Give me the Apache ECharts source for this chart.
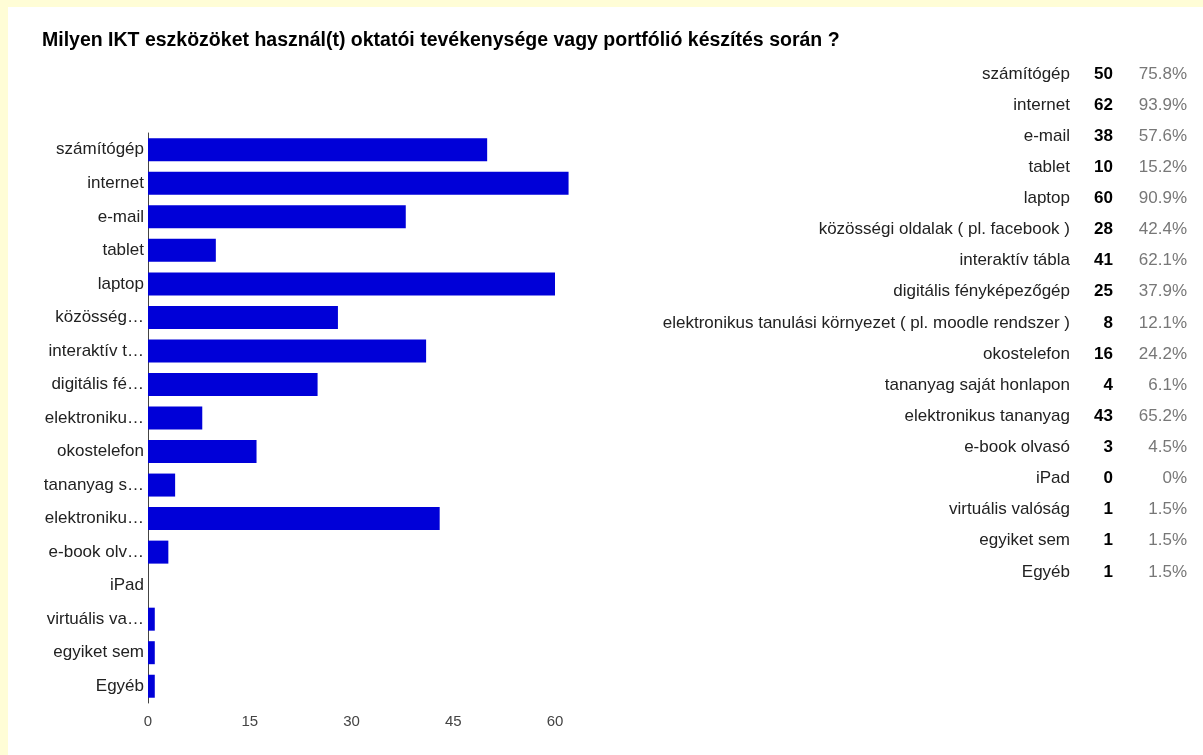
<!DOCTYPE html>
<html>
<head>
<meta charset="utf-8">
<script src="https://cdn.jsdelivr.net/npm/echarts@6/dist/echarts.min.js"></script>
<style>
  html, body { margin: 0; padding: 0; background: #fffdd6; }
  #main { position: absolute; left: 8px; top: 7px; width: 1195px; height: 748px; background: #fff; }
</style>
</head>
<body>
<div id="main"></div>
<script>
var categories = ['számítógép', 'internet', 'e-mail', 'tablet', 'laptop',
    'közösségi oldalak ( pl. facebook )', 'interaktív tábla', 'digitális fényképezőgép',
    'elektronikus tanulási környezet ( pl. moodle rendszer )', 'okostelefon',
    'tananyag saját honlapon', 'elektronikus tananyag', 'e-book olvasó', 'iPad',
    'virtuális valóság', 'egyiket sem', 'Egyéb'];
var counts = [50, 62, 38, 10, 60, 28, 41, 25, 8, 16, 4, 43, 3, 0, 1, 1, 1];
var percents = ['75.8%', '93.9%', '57.6%', '15.2%', '90.9%', '42.4%', '62.1%', '37.9%',
    '12.1%', '24.2%', '6.1%', '65.2%', '4.5%', '0%', '1.5%', '1.5%', '1.5%'];

var chart = echarts.init(document.getElementById('main'));
var font = 'Arial, "Liberation Sans", sans-serif';

var option = {
    animation: false,
    title: {
        text: 'Milyen IKT eszközöket használ(t) oktatói tevékenysége vagy portfólió készítés során ?',
        left: 29, top: 19,
        textStyle: { fontFamily: font, fontSize: 19.5, fontWeight: 'bold', color: '#000' }
    },
    grid: [
        { left: 140, top: 126, width: 508.75, height: 570 },
        { left: 1182, top: 51.4, width: 10, height: 529 }
    ],
    xAxis: [
        {
            gridIndex: 0, type: 'value', min: 0, max: 75, interval: 15,
            axisLine: { show: false }, axisTick: { show: false }, splitLine: { show: false },
            axisLabel: { showMaxLabel: false, margin: 11, color: '#444', fontSize: 15, fontFamily: font }
        },
        { gridIndex: 1, type: 'value', show: false }
    ],
    yAxis: [
        {
            gridIndex: 0, type: 'category', inverse: true, data: categories,
            axisLine: { show: true, lineStyle: { color: '#444', width: 1 } },
            axisTick: { show: false },
            axisLabel: {
                color: '#222', fontSize: 17, fontFamily: font, margin: 4,
                width: 104, overflow: 'truncate', ellipsis: '…'
            }
        },
        {
            gridIndex: 1, type: 'category', inverse: true, data: categories,
            axisLine: { show: false }, axisTick: { show: false },
            axisLabel: {
                margin: 3,
                formatter: function (v, i) {
                    return '{n|' + v + '}{c|' + counts[i] + '}{p|' + percents[i] + '}';
                },
                rich: {
                    n: { fontSize: 17, fontFamily: font, color: '#222' },
                    c: { fontSize: 17, fontFamily: font, color: '#000', fontWeight: 'bold', width: 43, align: 'right' },
                    p: { fontSize: 17, fontFamily: font, color: '#777', width: 74, align: 'right' }
                }
            }
        }
    ],
    series: [
        {
            type: 'bar', xAxisIndex: 0, yAxisIndex: 0, data: counts,
            barWidth: 23,
            itemStyle: { color: '#0000d8' }
        }
    ]
};
chart.setOption(option);
</script>
</body>
</html>
